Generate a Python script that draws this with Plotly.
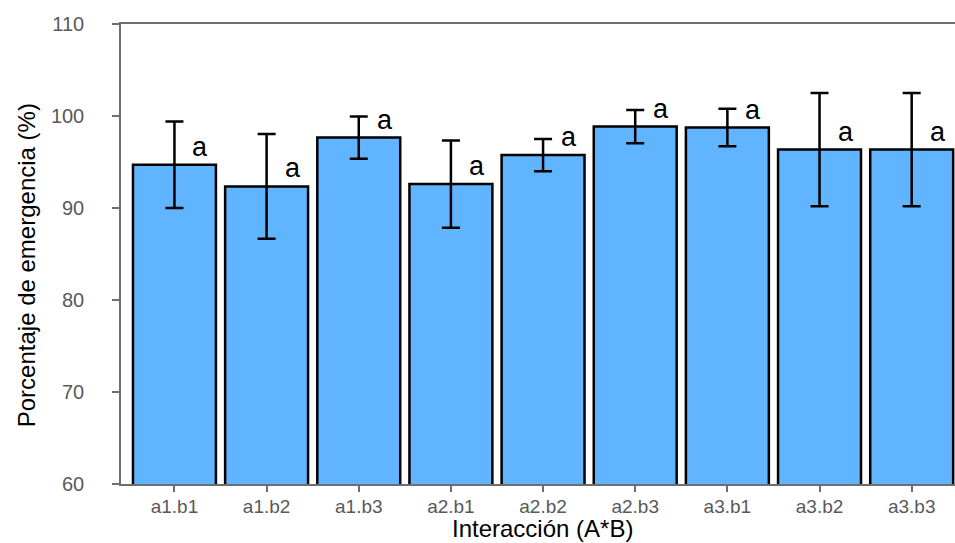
import plotly.graph_objects as go

categories = ["a1.b1", "a1.b2", "a1.b3", "a2.b1", "a2.b2", "a2.b3", "a3.b1", "a3.b2", "a3.b3"]
means = [94.7, 92.35, 97.65, 92.6, 95.75, 98.85, 98.75, 96.35, 96.35]
errors = [4.7, 5.7, 2.3, 4.75, 1.75, 1.8, 2.05, 6.15, 6.15]
letters = ["a", "a", "a", "a", "a", "a", "a", "a", "a"]
y_ticks = [60, 70, 80, 90, 100, 110]

FONT = "Liberation Sans, Arial, sans-serif"
AXIS_GREY = "#6e6e6e"
TICK_GREY = "#595959"

fig = go.Figure()
fig.add_trace(go.Bar(
    x=categories,
    y=means,
    marker=dict(color="#61B4FF", line=dict(color="black", width=2.5)),
    error_y=dict(type="data", array=errors, visible=True, color="black",
                 thickness=2.5, width=9),
    showlegend=False,
))

for c, m, l in zip(categories, means, letters):
    fig.add_annotation(x=c, y=m, text=l, showarrow=False, xshift=26, yshift=18,
                       font=dict(family=FONT, size=27, color="black"),
                       xanchor="center", yanchor="middle")

fig.add_annotation(xref="paper", yref="paper", x=0.505, y=-0.097,
                   text="Interacción (A*B)", showarrow=False,
                   font=dict(family=FONT, size=24, color="black"),
                   xanchor="center", yanchor="middle")
fig.add_annotation(xref="paper", yref="paper", x=-0.113, y=0.475,
                   text="Porcentaje de emergencia (%)", showarrow=False, textangle=-90,
                   font=dict(family=FONT, size=24, color="black"),
                   xanchor="center", yanchor="middle")

fig.update_layout(
    width=955, height=543,
    margin=dict(l=121, r=0, t=24, b=59),
    plot_bgcolor="white", paper_bgcolor="white",
    bargap=0.1,
    font=dict(family=FONT),
)
fig.update_xaxes(
    type="category", range=[-0.58, 8.47],
    showline=True, linecolor=AXIS_GREY, linewidth=1.5, mirror=True,
    ticks="outside", ticklen=6, tickcolor=AXIS_GREY, tickwidth=2,
    tickfont=dict(family=FONT, size=19, color=TICK_GREY),
    ticklabelstandoff=-2,
    showgrid=False, zeroline=False,
)
fig.update_yaxes(
    range=[60, 110], tickvals=y_ticks,
    showline=True, linecolor=AXIS_GREY, linewidth=1.5,
    ticks="outside", ticklen=7, tickcolor=AXIS_GREY, tickwidth=2,
    tickfont=dict(family=FONT, size=20, color=TICK_GREY),
    ticklabelstandoff=24,
    showgrid=False, zeroline=False,
)

fig.write_html(
    "out.html",
    config={"displayModeBar": False},
    post_script="document.body.style.margin='0';document.body.style.overflow='hidden';",
)
